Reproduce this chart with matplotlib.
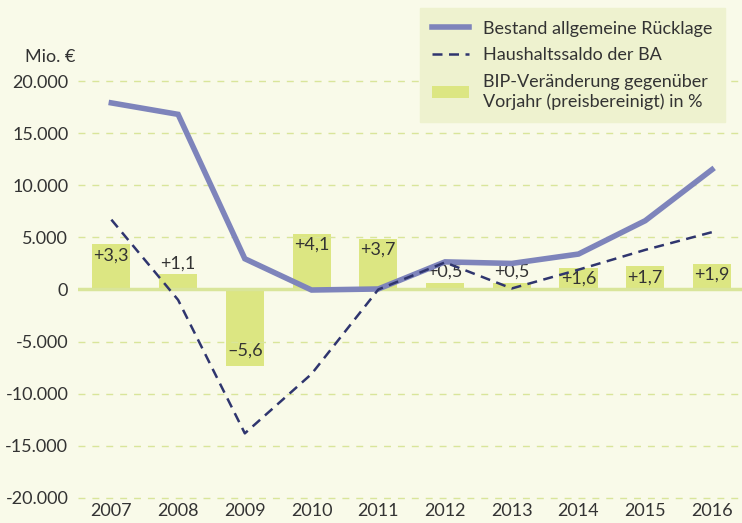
import matplotlib
matplotlib.use("Agg")
import matplotlib.pyplot as plt
from matplotlib.ticker import FuncFormatter

plt.rcParams['font.family'] = ['Lato', 'DejaVu Sans']

years = ['2007', '2008', '2009', '2010', '2011', '2012', '2013', '2014', '2015', '2016']
ruecklage = [17900, 16800, 2950, -50, 50, 2650, 2500, 3400, 6600, 11500]
saldo = [6700, -1000, -13800, -8100, 0, 2600, 100, 1900, 3800, 5500]
bip = [3.3, 1.1, -5.6, 4.1, 3.7, 0.5, 0.5, 1.6, 1.7, 1.9]
bip_labels = ['+3,3', '+1,1', '–5,6', '+4,1', '+3,7', '+0,5', '+0,5', '+1,6', '+1,7', '+1,9']
yticks = [20000, 15000, 10000, 5000, 0, -5000, -10000, -15000, -20000]

BG = '#f9fae9'
BAR = '#dce682'
LINE = '#7e84bb'
DASH = '#2f356e'
GRID = '#d9e59a'
TXT = '#333333'
FS = 13

fig = plt.figure(figsize=(7.42, 5.23), dpi=100, facecolor=BG)
ax = fig.add_axes([78/742, (523-502)/523, (742-78)/742, 502/523])
ax.set_facecolor(BG)
ylo, yhi = -20384, 27770
ax.set_ylim(ylo, yhi)
x = list(range(len(years)))
ax.set_xlim(-0.5, 9.45)

scale = 1310.0
ax2 = ax.twinx()
ax2.set_ylim(ylo / scale, yhi / scale)
ax2.axis('off')
ax.set_zorder(ax2.get_zorder() + 1)
ax.patch.set_visible(False)
ax2.patch.set_visible(False)

bars = ax2.bar(x, bip, width=0.57, color=BAR, zorder=2, label='BIP-Veränderung gegenüber\nVorjahr (preisbereinigt) in %')
for xi, v, lab in zip(x, bip, bip_labels):
    if v < 0:
        off = 11
    elif v >= 1.5:
        off = -8
    else:
        off = 8
    ax2.annotate(lab, (xi, v), xytext=(0, off), textcoords='offset points',
                 ha='center', va='center', fontsize=FS, color=TXT, zorder=5)

for t in yticks:
    if t != 0:
        ax.axhline(t, color=GRID, lw=1.0, ls=(0, (5, 5)), zorder=0)
ax.axhline(0, color=GRID, lw=2.5, zorder=3)

l1, = ax.plot(x, ruecklage, color=LINE, lw=4, solid_joinstyle='miter', zorder=4, label='Bestand allgemeine Rücklage')
l2, = ax.plot(x, saldo, color=DASH, lw=1.8, ls=(0, (4, 2.6)), zorder=4, label='Haushaltssaldo der BA')

ax.set_yticks(yticks)
ax.yaxis.set_major_formatter(FuncFormatter(lambda v, p: f"{int(v):,}".replace(',', '.')))
ax.set_xticks(x)
ax.set_xticklabels(years)
ax.tick_params(length=0, labelsize=FS, colors=TXT)
ax.tick_params(axis='y', pad=7)
ax.tick_params(axis='x', pad=1)
for s in ax.spines.values():
    s.set_visible(False)

fig.text(25/742, 1 - 57/523, 'Mio. €', fontsize=FS, color=TXT, va='center', ha='left')

leg = ax.legend(handles=[l1, l2, bars], loc='upper right', bbox_to_anchor=((725-78)/664, 1 - 8/502),
                borderaxespad=0, frameon=True, fontsize=FS, labelcolor=TXT, handlelength=2.0,
                handletextpad=0.8, borderpad=0.7, labelspacing=0.6, fancybox=False)
leg.get_frame().set_facecolor('#eef2cf')
leg.get_frame().set_edgecolor('#eef2cf')
leg.get_frame().set_alpha(1)
leg.set_zorder(10)

fig.savefig('out.png', dpi=100, facecolor=BG)
